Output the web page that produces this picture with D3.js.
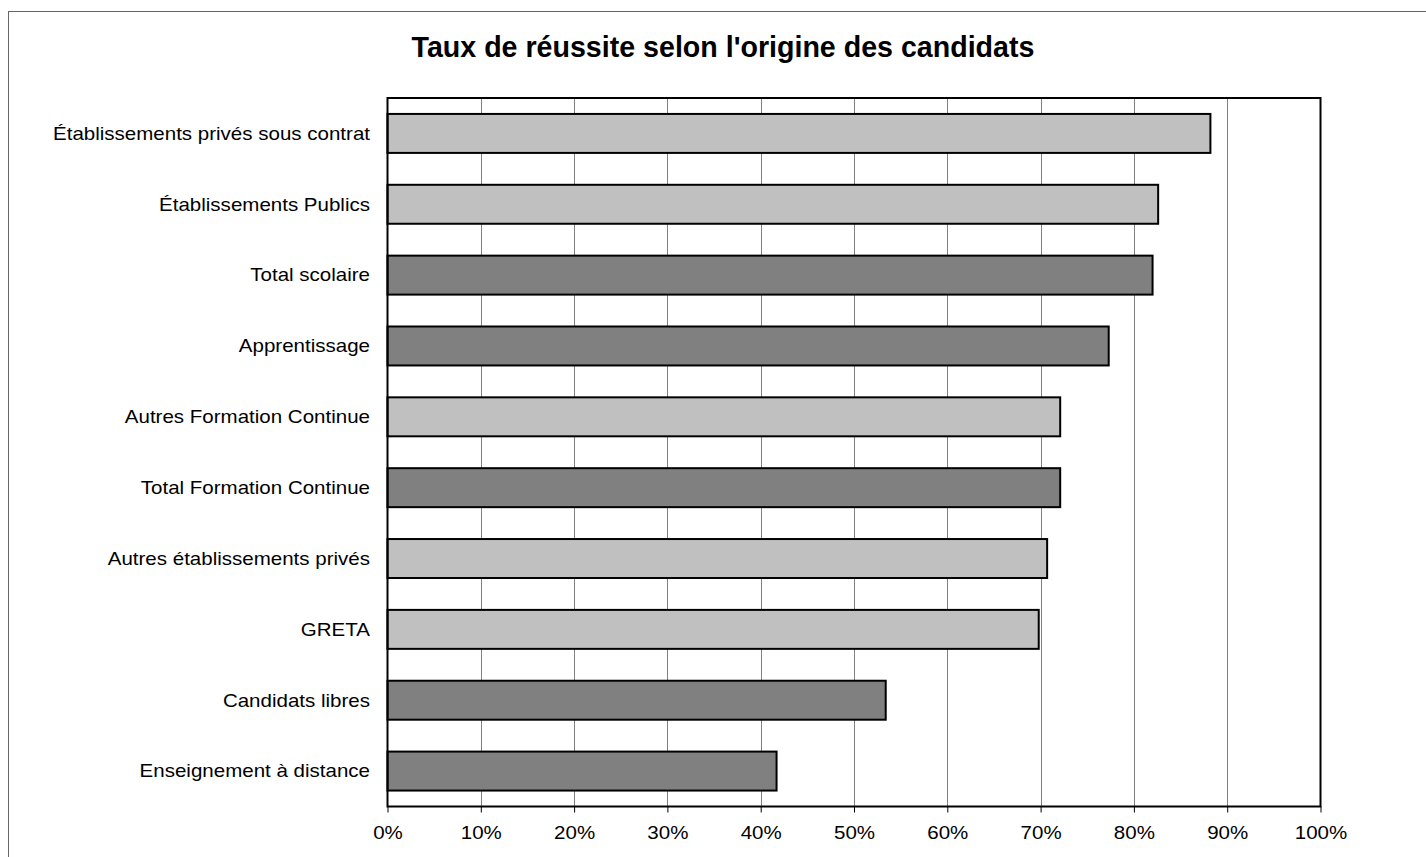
<!DOCTYPE html>
<html><head><meta charset="utf-8">
<script src="https://cdn.jsdelivr.net/npm/d3@7"></script>
<style>body{margin:0;background:#fff}svg{display:block}</style>
</head><body>
<svg id="c" width="1426" height="857"></svg>
<script>
const categories = ["Établissements privés sous contrat","Établissements Publics","Total scolaire","Apprentissage","Autres Formation Continue","Total Formation Continue","Autres établissements privés","GRETA","Candidats libres","Enseignement à distance"];
const values = [88.2, 82.6, 82.0, 77.3, 72.1, 72.1, 70.7, 69.8, 53.4, 41.7];
const isTotal = [false, false, true, true, false, true, false, false, true, true];
const tickValues = [0,10,20,30,40,50,60,70,80,90,100];
const title = "Taux de réussite selon l'origine des candidats";

const svg = d3.select("#c");
const font = "'Liberation Sans', Arial, sans-serif";
const stretch = 1.14;
svg.append("rect").attr("x",8.5).attr("y",11.5).attr("width",1440).attr("height",870)
  .attr("fill","#fff").attr("stroke","#666").attr("stroke-width",1);

const L=387.5, R=1320.5, T=98, B=806.5;
const x = d3.scaleLinear().domain([0,100]).range([L,R]);
const y = d3.scaleBand().domain(categories).range([T,B]).paddingInner(0.45).paddingOuter(0.225);

svg.append("text").attr("x",723).attr("y",57).attr("text-anchor","middle")
  .attr("font-family",font).attr("font-weight","bold").attr("font-size",28.6).text(title);

const g = svg.append("g");
g.selectAll("line.grid").data(tickValues.slice(1,-1)).join("line")
  .attr("x1",d=>Math.round(x(d))+0.5).attr("x2",d=>Math.round(x(d))+0.5)
  .attr("y1",T).attr("y2",B).attr("stroke","#808080").attr("stroke-width",1);

g.selectAll("rect.bar").data(categories).join("rect")
  .attr("x",x(0)).attr("y",d=>y(d))
  .attr("width",(d,i)=>x(values[i])-x(0)).attr("height",y.bandwidth())
  .attr("fill",(d,i)=>isTotal[i]?"#808080":"#c0c0c0")
  .attr("stroke","#000").attr("stroke-width",2);

svg.append("rect").attr("x",L).attr("y",T).attr("width",R-L).attr("height",B-T)
  .attr("fill","none").attr("stroke","#000").attr("stroke-width",2);

const xAxis = d3.axisBottom(x).tickValues(tickValues).tickFormat(d=>d+"%").tickSize(6).tickSizeOuter(0);
const ax = svg.append("g").attr("transform",`translate(0,${B})`).call(xAxis);
ax.select(".domain").remove();
ax.selectAll(".tick line").attr("stroke","#000");
ax.selectAll(".tick text").attr("font-family",font).attr("font-size",18).attr("fill","#000")
  .attr("y",0).attr("dy",0).attr("transform",`translate(0,32) scale(${stretch},1)`);

svg.append("g").selectAll("text").data(categories).join("text")
  .attr("transform",d=>`translate(370,${y(d)+y.bandwidth()/2}) scale(${stretch},1)`).attr("dy","0.35em")
  .attr("text-anchor","end").attr("font-family",font).attr("font-size",18).text(d=>d);
</script>
</body></html>
